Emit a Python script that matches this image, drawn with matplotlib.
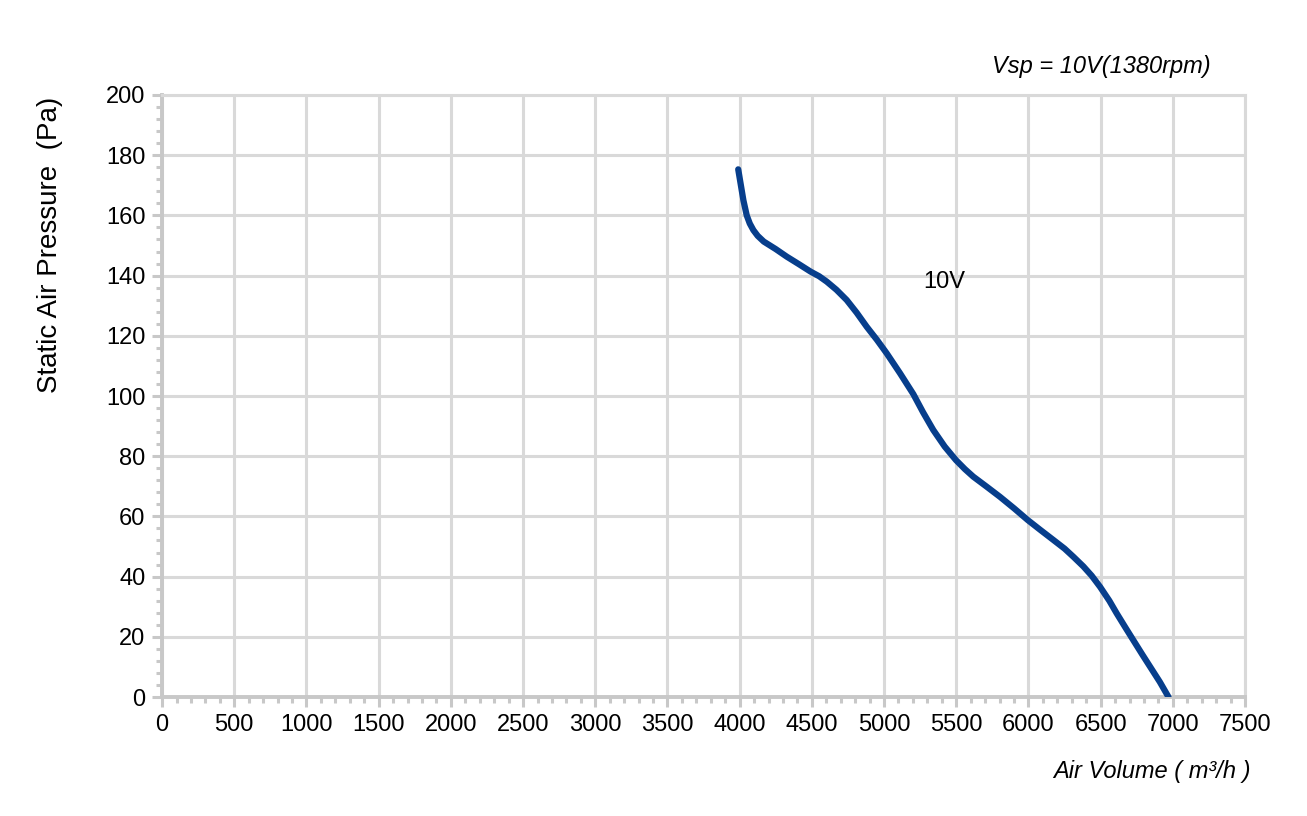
import matplotlib
matplotlib.use("Agg")
import matplotlib.pyplot as plt
from matplotlib.ticker import MultipleLocator

plt.rcParams['font.family'] = ['Liberation Sans', 'DejaVu Sans']

# curve
air_volume = [3990, 4005, 4026, 4049, 4070, 4095, 4125, 4167, 4250, 4326,
              4410, 4492, 4550, 4603, 4670, 4741, 4810, 4880, 4950, 5018,
              5110, 5203, 5270, 5341, 5420, 5498, 5560, 5618, 5710, 5803,
              5900, 5995, 6080, 6172, 6250, 6311, 6380, 6438, 6496, 6560,
              6611, 6670, 6726, 6790, 6842, 6910, 6970]
pressure = [175.3, 171, 165, 160, 157.3, 155.1, 153.2, 151.3, 148.8, 146.3,
            143.8, 141.3, 139.8, 138, 135.3, 131.9, 127.7, 123, 118.7, 114.2,
            107.6, 100.6, 94.6, 88.7, 83.2, 78.7, 75.7, 73.2, 69.9, 66.5,
            62.7, 58.8, 55.6, 52.2, 49.3, 46.6, 43.4, 40.3, 36.6, 32,
            27.8, 23.2, 18.9, 14, 10.1, 5, 0]
curve_label = "10V"
title_text = "Vsp = 10V(1380rpm)"

fig = plt.figure(figsize=(13.07, 8.16), dpi=100)
ax = fig.add_axes([0.124, 0.1458, 0.8286, 0.7378])

grid_c = '#d9d9d9'
ax.plot(air_volume, pressure, color='#073e8c', lw=4.5, solid_capstyle='round',
        solid_joinstyle='round', zorder=3)

ax.set_xlim(0, 7500)
ax.set_ylim(0, 200)
ax.xaxis.set_major_locator(MultipleLocator(500))
ax.xaxis.set_minor_locator(MultipleLocator(100))
ax.yaxis.set_major_locator(MultipleLocator(20))
ax.yaxis.set_minor_locator(MultipleLocator(4))
ax.grid(True, which='major', color=grid_c, lw=2.2)
ax.set_axisbelow(True)
for s in ax.spines.values():
    s.set_color(grid_c)
    s.set_linewidth(2.2)
for s in ('left', 'bottom'):
    ax.spines[s].set_color('#c8c8c8')
    ax.spines[s].set_linewidth(2.8)
ax.tick_params(which='major', direction='out', length=7, width=2.2, color='#c8c8c8',
               labelsize=17, pad=5)
ax.tick_params(which='minor', direction='out', length=4, width=2.2, color='#c8c8c8')

ax.text(5420, 138, curve_label, fontsize=17, ha='center', va='center')

fig.text(0.926, 0.919, title_text, fontsize=17, style='italic', ha='right', va='center')
fig.text(0.881, 0.055, "Air Volume ( m³/h )", fontsize=17, style='italic', ha='center', va='center')
fig.text(0.038, 0.70, "Static Air Pressure  (Pa)", fontsize=20, rotation=90, ha='center', va='center')

fig.savefig("out.png", dpi=100)
